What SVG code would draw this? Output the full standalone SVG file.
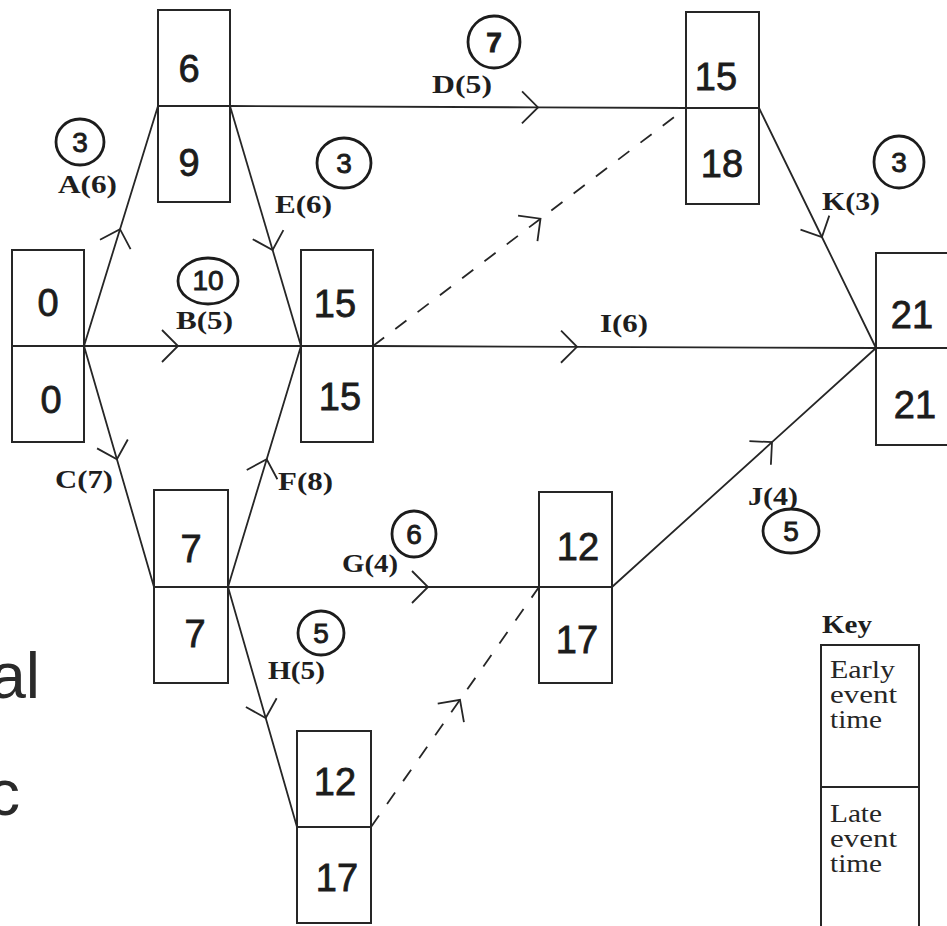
<svg xmlns="http://www.w3.org/2000/svg" width="947" height="926" viewBox="0 0 947 926">
<style>
.box{fill:none;stroke:#262626;stroke-width:2}
.hw{font-family:"Liberation Sans","DejaVu Sans",sans-serif;font-size:38px;fill:#1c1c1c;stroke:#1c1c1c;stroke-width:0.8;text-anchor:middle}
.lbl{font-family:"Liberation Serif","Times New Roman",serif;font-size:26px;font-weight:bold;fill:#1e1e1e}
.key{font-family:"Liberation Serif","Times New Roman",serif;font-size:25px;fill:#262626}
.edge{fill:none;stroke:#262626;stroke-width:1.8;marker-mid:url(#ah)}
.dash{stroke-dasharray:14 14}
.circ{fill:none;stroke:#1c1c1c;stroke-width:2.8}
.cnum{font-family:"Liberation Sans","DejaVu Sans",sans-serif;font-size:28px;fill:#1c1c1c;stroke:#1c1c1c;stroke-width:0.9;text-anchor:middle}
.scrawl{font-family:"Liberation Sans","DejaVu Sans",sans-serif;font-size:64px;fill:#2a2a2a}
</style>
<defs>
<marker id="ah" markerUnits="userSpaceOnUse" viewBox="-20 -20 40 40" markerWidth="40" markerHeight="40" refX="0" refY="0" orient="auto" overflow="visible">
<path d="M-16,-16 L0,0 L-16,16" fill="none" stroke="#262626" stroke-width="1.8" stroke-dasharray="none"/>
</marker>
</defs>
<rect width="947" height="926" fill="#ffffff"/>

<g id="connectors">
<path class="edge" d="M84,346 L120,229.2 L158,106"/>
<path class="edge" d="M230,106 L272.6,250 L301,346"/>
<path class="edge" d="M84,346 L178,346 L301,346"/>
<path class="edge" d="M84,346 L116.9,459.3 L154,587"/>
<path class="edge" d="M228,587 L266.7,459.3 L301,346"/>
<path class="edge" d="M228,587 L428,587 L539,587"/>
<path class="edge" d="M228,587 L265.7,718 L297,827"/>
<path class="edge" d="M230,106 L538,107.4 L686,108"/>
<path class="edge" d="M759,108 L821.9,237 L876,348"/>
<path class="edge" d="M373,346 L577,346.8 L876,348"/>
<path class="edge" d="M612,587 L772,442.2 L876,348"/>
<path class="edge dash" d="M373,346 L540.5,218.7 L686,108"/>
<path class="edge dash" d="M371,827 L460,699.8 L539,587"/>
</g>

<g id="edge-labels">
<text class="lbl" x="58" y="193" textLength="59" lengthAdjust="spacingAndGlyphs">A(6)</text>
<text class="lbl" x="275" y="213" textLength="57" lengthAdjust="spacingAndGlyphs">E(6)</text>
<text class="lbl" x="432" y="93" textLength="60" lengthAdjust="spacingAndGlyphs">D(5)</text>
<text class="lbl" x="822" y="210" textLength="58" lengthAdjust="spacingAndGlyphs">K(3)</text>
<text class="lbl" x="176" y="329" textLength="57" lengthAdjust="spacingAndGlyphs">B(5)</text>
<text class="lbl" x="600" y="332" textLength="48" lengthAdjust="spacingAndGlyphs">I(6)</text>
<text class="lbl" x="55" y="488" textLength="58" lengthAdjust="spacingAndGlyphs">C(7)</text>
<text class="lbl" x="278" y="490" textLength="55" lengthAdjust="spacingAndGlyphs">F(8)</text>
<text class="lbl" x="342" y="572" textLength="56" lengthAdjust="spacingAndGlyphs">G(4)</text>
<text class="lbl" x="268" y="679" textLength="57" lengthAdjust="spacingAndGlyphs">H(5)</text>
<text class="lbl" x="748" y="505" textLength="50" lengthAdjust="spacingAndGlyphs">J(4)</text>
</g>

<g id="floats">
<ellipse class="circ" cx="80" cy="142" rx="24" ry="23"/><text class="cnum" x="80" y="152">3</text>
<ellipse class="circ" cx="344" cy="163" rx="27" ry="25"/><text class="cnum" x="344" y="173">3</text>
<ellipse class="circ" cx="494" cy="42" rx="26" ry="26"/><text class="cnum" x="494" y="52" font-weight="bold">7</text>
<ellipse class="circ" cx="899" cy="162" rx="25" ry="26"/><text class="cnum" x="899" y="172">3</text>
<ellipse class="circ" cx="208" cy="281" rx="30" ry="23"/><text class="cnum" x="208" y="290" font-size="24">10</text>
<ellipse class="circ" cx="414" cy="534" rx="22" ry="23"/><text class="cnum" x="414" y="544">6</text>
<ellipse class="circ" cx="321" cy="633" rx="23" ry="22"/><text class="cnum" x="321" y="643">5</text>
<ellipse class="circ" cx="791" cy="531" rx="28" ry="22"/><text class="cnum" x="791" y="541">5</text>
</g>

<g id="node-0">
<rect class="box" x="12" y="250" width="72" height="192"/><line class="box" x1="12" y1="346" x2="84" y2="346"/>
<text class="hw" x="48" y="316" font-size="32">0</text>
<text class="hw" x="51" y="413">0</text>
</g>
<g id="node-1">
<rect class="box" x="158" y="10" width="72" height="192"/><line class="box" x1="158" y1="106" x2="230" y2="106"/>
<text class="hw" x="189" y="82">6</text>
<text class="hw" x="189" y="176">9</text>
</g>
<g id="node-2">
<rect class="box" x="301" y="250" width="72" height="192"/><line class="box" x1="301" y1="346" x2="373" y2="346"/>
<text class="hw" x="335" y="317">15</text>
<text class="hw" x="340" y="410">15</text>
</g>
<g id="node-3">
<rect class="box" x="686" y="12" width="73" height="192"/><line class="box" x1="686" y1="108" x2="759" y2="108"/>
<text class="hw" x="716" y="90">15</text>
<text class="hw" x="722" y="177">18</text>
</g>
<g id="node-4">
<rect class="box" x="154" y="490" width="74" height="193"/><line class="box" x1="154" y1="587" x2="228" y2="587"/>
<text class="hw" x="191" y="562">7</text>
<text class="hw" x="195" y="647">7</text>
</g>
<g id="node-5">
<rect class="box" x="876" y="253" width="76" height="192"/><line class="box" x1="876" y1="348" x2="952" y2="348"/>
<text class="hw" x="912" y="328">21</text>
<text class="hw" x="915" y="418">21</text>
</g>
<g id="node-6">
<rect class="box" x="539" y="492" width="73" height="191"/><line class="box" x1="539" y1="587" x2="612" y2="587"/>
<text class="hw" x="578" y="560">12</text>
<text class="hw" x="577" y="653">17</text>
</g>
<g id="node-7">
<rect class="box" x="297" y="731" width="74" height="192"/><line class="box" x1="297" y1="827" x2="371" y2="827"/>
<text class="hw" x="335" y="795">12</text>
<text class="hw" x="337" y="891">17</text>
</g>

<g id="key">
<text class="lbl" x="822" y="633" textLength="50" lengthAdjust="spacingAndGlyphs">Key</text>
<rect class="box" x="821" y="645" width="98" height="290"/><line class="box" x1="821" y1="787" x2="919" y2="787"/>
<text class="key" x="830" y="678" textLength="65" lengthAdjust="spacingAndGlyphs">Early</text>
<text class="key" x="830" y="703" textLength="67" lengthAdjust="spacingAndGlyphs">event</text>
<text class="key" x="830" y="728" textLength="52" lengthAdjust="spacingAndGlyphs">time</text>
<text class="key" x="830" y="822" textLength="52" lengthAdjust="spacingAndGlyphs">Late</text>
<text class="key" x="830" y="847" textLength="67" lengthAdjust="spacingAndGlyphs">event</text>
<text class="key" x="830" y="872" textLength="52" lengthAdjust="spacingAndGlyphs">time</text>
</g>

<g id="margin-notes">
<text class="scrawl" x="40" y="698" text-anchor="end">al</text>
<text class="scrawl" x="-12" y="815">c</text>
</g>
</svg>
